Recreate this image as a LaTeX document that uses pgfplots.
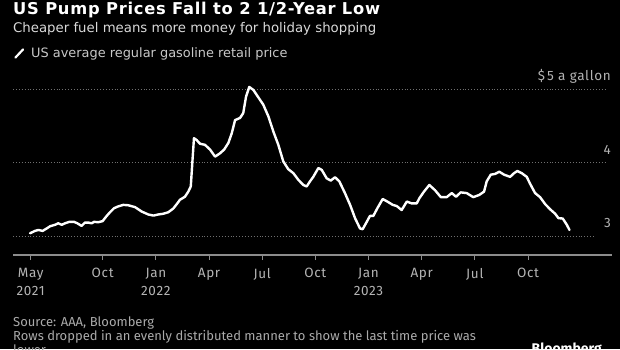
\documentclass[border=0pt]{standalone}
\usepackage{pgfplots}
\pgfplotsset{compat=1.18}
\usepackage{fontspec}
\setmainfont{Fira Sans}
\newfontfamily\titlefont{DejaVu Sans}
\newfontfamily\tickfont[LetterSpace=5]{Fira Sans}
\newfontfamily\headfont[LetterSpace=4.5]{DejaVu Sans}
\definecolor{subt}{HTML}{D9D9D9}
\definecolor{legt}{HTML}{C8C8C8}
\definecolor{tickt}{HTML}{B4B4B4}
\definecolor{foot}{HTML}{AAAAAA}
\definecolor{gridc}{HTML}{707070}
\definecolor{axisc}{HTML}{8C8C8C}
\begin{document}
\begin{tikzpicture}
\useasboundingbox (0pt,0pt) rectangle (620pt,349pt);
\fill[black] (0pt,0pt) rectangle (620pt,349pt);
\clip (0pt,0pt) rectangle (620pt,349pt);
\node[anchor=base west, inner sep=0, text=white, font=\headfont\fontsize{16.3}{18}\selectfont\bfseries] at (13pt,334.7pt) {US Pump Prices Fall to 2 1/2-Year Low};
\node[anchor=base west, inner sep=0, text=subt, font=\titlefont\fontsize{13.3}{16}\selectfont] at (13pt,316.3pt) {Cheaper fuel means more money for holiday shopping};
\draw[white, line width=2.2pt, line cap=round] (15.5pt,291.5pt) -- (23pt,299.5pt);
\node[anchor=base west, inner sep=0, text=legt, font=\titlefont\fontsize{12.9}{15}\selectfont] at (31pt,291.3pt) {US average regular gasoline retail price};
\node[anchor=base west, inner sep=0, text=foot, font=\fontsize{13}{14}\selectfont] at (13pt,22.5pt) {Source: AAA, Bloomberg};
\node[anchor=base west, inner sep=0, text=foot, font=\fontsize{13}{14}\selectfont] at (13pt,8.3pt) {Rows dropped in an evenly distributed manner to show the last time price was};
\node[anchor=base west, inner sep=0, text=foot, font=\fontsize{13}{14}\selectfont] at (13pt,-5.9pt) {lower};
\node[anchor=base east, inner sep=0, text=white, font=\fontsize{14}{16}\selectfont\bfseries] at (602pt,-4pt) {Bloomberg};
\begin{axis}[
  at={(13pt,94pt)}, anchor=south west,
  width=599pt, height=173.2pt, scale only axis,
  xmin=3.938, xmax=37.74, ymin=2.75, ymax=5.1,
  axis x line*=bottom, axis y line*=right,
  y axis line style={draw=none},
  x axis line style={draw=axisc, line width=1.2pt, -},
  xtick={4.937,9,12,15,18,21,24,27,30,33},
  xticklabels={May\\2021,Oct,Jan\\2022,Apr,Jul,Oct,Jan\\2023,Apr,Jul,Oct},
  xtick style={draw=axisc, line width=1pt},
  tick align=outside,
  major tick length=5pt,
  xticklabel style={align=center, text=tickt, font=\tickfont\fontsize{13.5}{17.5}\selectfont, inner sep=0pt, anchor=north, yshift=-8pt},
  ytick={3,4,5},
  yticklabels={3,4,\$\,5 a gallon},
  ytick style={draw=none},
  yticklabel style={anchor=base east, inner sep=0pt, text=tickt, font=\tickfont\fontsize{13.5}{15}\selectfont, xshift=-6pt, yshift=8.7pt},
  clip=false,
]
\draw[gridc, dotted, line width=0.9pt] (axis cs:3.938,5) -- (axis cs:37.35,5);
\draw[gridc, dotted, line width=0.9pt] (axis cs:3.938,4) -- (axis cs:37.35,4);
\draw[gridc, dotted, line width=0.9pt] (axis cs:3.938,3) -- (axis cs:36.67,3);
\addplot[white, line width=2.4pt, line join=round, line cap=round] coordinates {
(4.90,3.045) (5.18,3.077) (5.37,3.09) (5.61,3.077) (5.84,3.11) (6.03,3.14) (6.31,3.16) (6.49,3.18) (6.69,3.16) (6.87,3.18)
(7.12,3.20) (7.38,3.20) (7.57,3.18) (7.81,3.145) (8.00,3.19) (8.19,3.19) (8.38,3.18) (8.51,3.20) (8.75,3.195) (9.00,3.21)
(9.19,3.27) (9.41,3.33) (9.64,3.385) (9.88,3.41) (10.16,3.43) (10.44,3.425) (10.82,3.40) (11.20,3.34) (11.57,3.30) (11.86,3.285)
(12.14,3.30) (12.42,3.31) (12.70,3.33) (12.98,3.38) (13.21,3.45) (13.36,3.50) (13.64,3.54) (13.83,3.61) (13.97,3.68) (14.08,4.085)
(14.15,4.335) (14.30,4.31) (14.49,4.26) (14.77,4.245) (15.06,4.18) (15.34,4.085) (15.62,4.13) (15.85,4.18) (16.09,4.27) (16.28,4.40)
(16.47,4.58) (16.75,4.61) (16.93,4.675) (17.09,4.90) (17.27,5.03) (17.50,4.99) (17.78,4.89) (18.06,4.79) (18.35,4.63) (18.63,4.425)
(18.91,4.245) (19.19,4.02) (19.47,3.915) (19.76,3.86) (20.04,3.77) (20.32,3.70) (20.51,3.68) (20.70,3.75) (20.88,3.81) (21.17,3.93)
(21.36,3.905) (21.64,3.79) (21.87,3.76) (22.11,3.805) (22.35,3.75) (22.67,3.59) (22.96,3.43) (23.24,3.25) (23.52,3.11) (23.67,3.10)
(23.90,3.20) (24.08,3.28) (24.27,3.28) (24.50,3.385) (24.80,3.51) (25.06,3.475) (25.37,3.43) (25.59,3.415) (25.87,3.36) (26.16,3.475)
(26.44,3.45) (26.72,3.45) (26.87,3.52) (27.13,3.61) (27.43,3.70) (27.75,3.63) (28.08,3.535) (28.41,3.535) (28.70,3.59) (28.94,3.54)
(29.20,3.60) (29.54,3.59) (29.91,3.535) (30.25,3.565) (30.52,3.61) (30.67,3.75) (30.90,3.84) (31.14,3.85) (31.38,3.88) (31.65,3.84)
(31.99,3.81) (32.21,3.86) (32.40,3.89) (32.65,3.86) (32.93,3.81) (33.11,3.72) (33.40,3.59) (33.68,3.535) (33.97,3.44) (34.25,3.37)
(34.53,3.31) (34.72,3.25) (34.96,3.245) (35.19,3.16) (35.34,3.09)
};
\end{axis}
\end{tikzpicture}
\end{document}
